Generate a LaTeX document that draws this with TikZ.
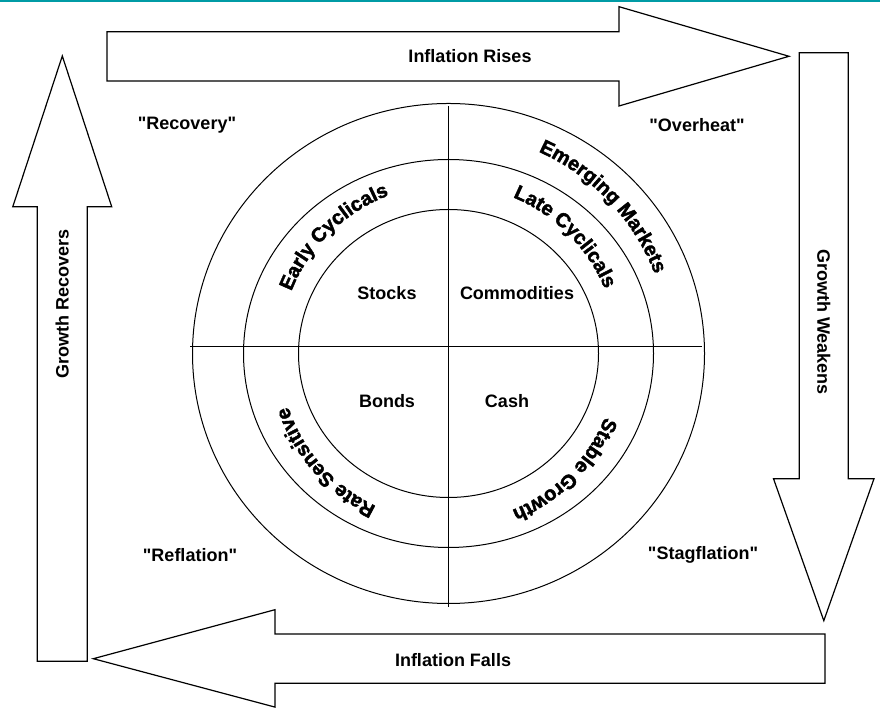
\documentclass[tikz,border=0pt]{standalone}
\usepackage{fontspec}
\setmainfont{Liberation Sans}[Ligatures=TeXOff]
\newfontfamily\heavysans{Liberation Sans}[BoldFeatures={FakeBold=2}]
\usetikzlibrary{decorations.text}
\definecolor{bandteal}{RGB}{0,155,165}
\newcommand{\arcfont}{\heavysans\bfseries\fontsize{20}{24}\selectfont}

\begin{document}
\begin{tikzpicture}[x=1pt,y=1pt,
  big arrow/.style={draw,line width=1.2pt,line join=miter},
  main label/.style={font=\bfseries\fontsize{18}{21}\selectfont,inner sep=0pt},
  ring/.style={draw,line width=1pt}]

  \useasboundingbox (0,0) rectangle (880,708);
  \draw[bandteal,line width=1.6pt] (0,707.2) -- (880,707.2);

  % the four big arrows
  \draw[big arrow] (107,676.3) -- (619,676.3) -- (619,701.3) -- (789,651.7)
     -- (619,602) -- (619,627) -- (107,627) -- cycle;
  \draw[big arrow] (799.3,655.3) -- (848.3,655.3) -- (848.3,229.3) -- (874,229.3)
     -- (823.8,87.3) -- (773.5,229.3) -- (799.3,229.3) -- cycle;
  \draw[big arrow] (825,74) -- (275,74) -- (275,98.3) -- (93.3,49.3)
     -- (275,0.9) -- (275,24.7) -- (825,24.7) -- cycle;
  \draw[big arrow] (37.3,46.7) -- (87.3,46.7) -- (87.3,501.3) -- (111.7,501.3)
     -- (62.3,652) -- (12.8,501.3) -- (37.3,501.3) -- cycle;

  \node[main label] (rises) at (470,652) {Inflation Rises};
  \node[main label,rotate=-90] (weakens) at (823.8,386) {Growth Weakens};
  \node[main label] (falls) at (453,48) {Inflation Falls};
  \node[main label,rotate=90] (recovers) at (62.3,404) {Growth Recovers};

  % the clock
  \coordinate (c) at (448.5,354.5);
  \draw[ring] (c) ellipse [x radius=256, y radius=250];
  \draw[ring] (c) ellipse [x radius=205, y radius=194];
  \draw[ring] (c) ellipse [x radius=150, y radius=144];
  \coordinate (n) at (448,602);
  \coordinate (s) at (448,101);
  \coordinate (w) at (190,361.3);
  \coordinate (e) at (701.7,361.3);
  \draw[ring] (n) -- (s);
  \draw[ring] (w) -- (e);

  \node[main label] (stocks) at (387,415) {Stocks};
  \node[main label] (comm) at (517,415) {Commodities};
  \node[main label] (bonds) at (387,307) {Bonds};
  \node[main label] (cash) at (507,307) {Cash};

  \node[main label] (recovery) at (187,583) {"Recovery"};
  \node[main label] (overheat) at (697,583) {"Overheat"};
  \node[main label] (reflation) at (190,153) {"Reflation"};
  \node[main label] (stagflation) at (703,153) {"Stagflation"};

  % sectors round the rings
  \path[decorate,decoration={text along path,text align=center,
    text={|\arcfont|Early Cyclicals}}]
    (c) ++(169.5:169) arc[start angle=169.5,end angle=99.5,radius=169];
  \path[decorate,decoration={text along path,text align=center,
    text={|\arcfont|Late Cyclicals}}]
    (c) ++(80:169) arc[start angle=80,end angle=10,radius=169];
  \path[decorate,decoration={text along path,text align=center,
    text={|\arcfont|Emerging Markets}}]
    (c) ++(78.5:221) arc[start angle=78.5,end angle=8.5,radius=221];
  \path[decorate,decoration={text along path,text align=center,
    text={|\arcfont|Rate Sensitive}}]
    (c) ++(256.5:169) arc[start angle=256.5,end angle=186.5,radius=169];
  \path[decorate,decoration={text along path,text align=center,
    text={|\arcfont|Stable Growth}}]
    (c) ++(350:169) arc[start angle=350,end angle=280,radius=169];
\end{tikzpicture}
\end{document}
